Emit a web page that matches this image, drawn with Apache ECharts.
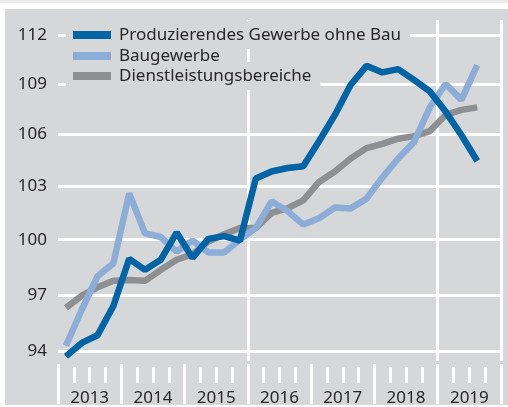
<!DOCTYPE html>
<html>
<head>
<meta charset="utf-8">
<script src="https://cdn.jsdelivr.net/npm/echarts@6/dist/echarts.min.js"></script>
<style>
  html, body { margin: 0; padding: 0; background: #fff; }
  #chart { width: 508px; height: 407px; }
</style>
</head>
<body>
<div id="chart"></div>
<script>
// quarterly index values, 2013 Q1 .. 2019 Q3
const years = ['2013', '2014', '2015', '2016', '2017', '2018', '2019']
const quarters = years.flatMap(y => ['Q1', 'Q2', 'Q3', 'Q4'].map(q => y + q))
const yTicks = [94, 97, 100, 103, 106, 109, 112]

const produzierend = [93.75, 94.45, 94.85, 96.4, 98.95, 98.35, 98.9, 100.4, 99.0, 100.05, 100.2, 99.95,
  103.45, 103.85, 104.05, 104.15, 105.6, 107.15, 108.95, 110.1, 109.7, 109.9, 109.25, 108.55, 107.35, 105.95, 104.45]
const bau = [94.3, 96.2, 98.0, 98.7, 102.6, 100.35, 100.15, 99.35, 99.95, 99.3, 99.3, 100.0,
  100.65, 102.15, 101.6, 100.85, 101.2, 101.8, 101.75, 102.3, 103.5, 104.6, 105.55, 107.6, 109.0, 108.05, 110.15]
const dienst = [96.3, 96.95, 97.4, 97.75, 97.8, 97.75, 98.35, 98.9, 99.2, 99.9, 100.3, 100.65,
  100.65, 101.5, 101.75, 102.2, 103.25, 103.85, 104.6, 105.2, 105.45, 105.75, 105.9, 106.2, 107.15, 107.45, 107.6]

const names = ['Produzierendes Gewerbe ohne Bau', 'Baugewerbe', 'Dienstleistungsbereiche']
const colors = ['#0064a5', '#8badd7', '#8e8f92']

const panel = '#d6d7d9'
const font = 'Noto Sans'

const chart = echarts.init(document.getElementById('chart'))

const legendTops = [21, 42, 62]
const legends = names.map((name, i) => ({
  data: [name],
  left: 66,
  top: legendTops[i],
  icon: 'rect',
  itemWidth: 38,
  itemHeight: 8,
  padding: [5, 9, 5, 7],
  backgroundColor: panel,
  selectedMode: false,
  textStyle: { fontFamily: font, fontSize: 17, color: '#262626', lineHeight: 18, padding: [0, 0, 0, 3] }
}))

chart.setOption({
  backgroundColor: '#fff',
  animation: false,
  graphic: [
    { type: 'rect', z: -10, shape: { x: 0, y: 0, width: 508, height: 3 }, style: { fill: '#ebebeb' } },
    { type: 'rect', z: -10, shape: { x: 5, y: 9, width: 503, height: 396 }, style: { fill: panel } }
  ],
  legend: legends,
  grid: { left: 58, right: 7, top: 20, bottom: 45 },
  xAxis: [
    {
      type: 'category',
      data: quarters,
      boundaryGap: true,
      offset: 6,
      axisLine: { show: false },
      axisTick: { show: true, interval: 0, length: 16, lineStyle: { color: '#fff', width: 3 } },
      axisLabel: { show: false },
      splitLine: { show: false }
    },
    {
      type: 'category',
      data: years,
      boundaryGap: true,
      position: 'bottom',
      offset: 3,
      axisLine: { show: false },
      axisTick: { show: true, interval: 0, length: 40, lineStyle: { color: '#fff', width: 3 } },
      axisLabel: { show: true, interval: 0, margin: 26, fontFamily: font, fontSize: 17, color: '#262626' },
      splitLine: {
        show: true,
        interval: (i) => i === 3 || i === 6,
        lineStyle: { color: '#fff', width: 3 }
      }
    }
  ],
  yAxis: {
    type: 'log',
    logBase: 10,
    min: 93.51,
    max: 112.93,
    axisLine: { show: false },
    axisTick: { show: false, customValues: yTicks },
    axisLabel: { customValues: yTicks, margin: 11, fontFamily: font, fontSize: 17, color: '#262626' },
    splitLine: { show: true, lineStyle: { color: '#fff', width: 3 } }
  },
  series: [
    { name: names[2], type: 'line', data: dienst, color: colors[2], symbol: 'none', lineStyle: { width: 6.5 } },
    { name: names[1], type: 'line', data: bau, color: colors[1], symbol: 'none', lineStyle: { width: 6.5 } },
    { name: names[0], type: 'line', data: produzierend, color: colors[0], symbol: 'none', lineStyle: { width: 6.5 } }
  ]
})
</script>
</body>
</html>
